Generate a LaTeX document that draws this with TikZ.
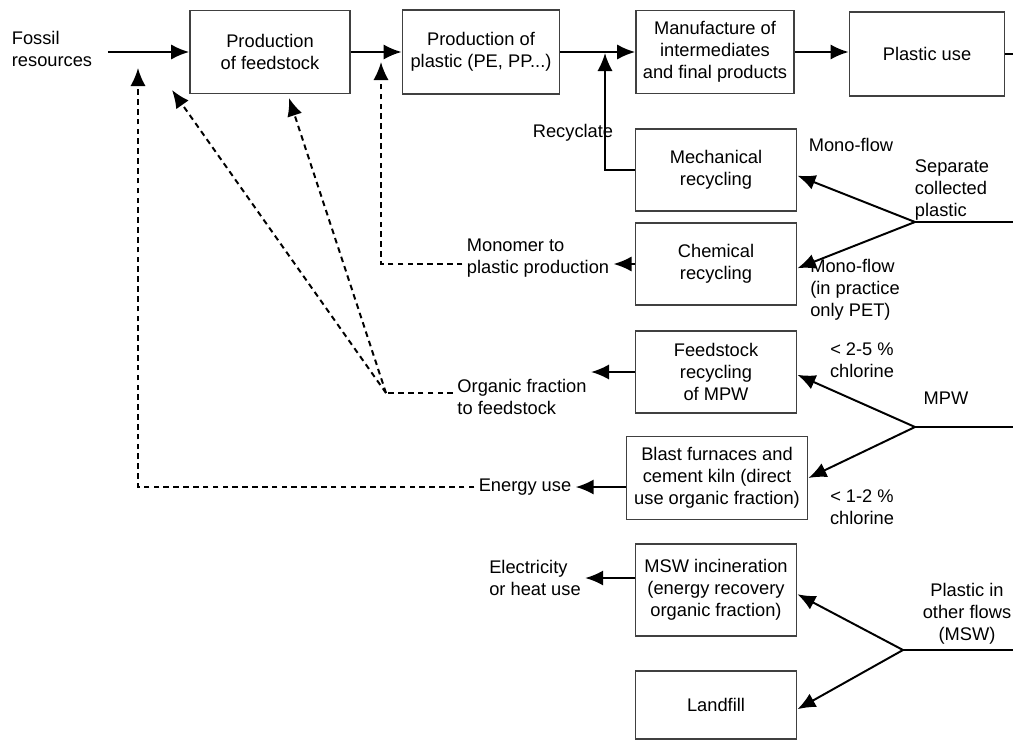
\documentclass[tikz,border=0pt]{standalone}
\usepackage{fontspec}
\setmainfont{Liberation Sans}
\usepackage{tikz}
\usetikzlibrary{arrows,arrows.meta,shapes}
\usetikzlibrary{positioning,calc}
\tikzstyle{block} = [draw=black!75, rectangle, line width=1.2pt, align=center,
    minimum width=4.03cm, minimum height=2.05cm, inner sep=2pt,
    font=\fontsize{13}{15.5}\selectfont]
\tikzstyle{txt} = [align=left, inner sep=3pt, font=\fontsize{13}{15.5}\selectfont]
\tikzstyle{flow} = [draw, line width=1.4pt, -{Latex[length=4.5mm,width=3.8mm]}]
\tikzstyle{dflow} = [flow, dash pattern=on 4pt off 3pt]
\tikzstyle{plain} = [draw, line width=1.4pt]

\begin{document}
\begin{tikzpicture}[x=0.025cm, y=-0.025cm, auto]
  \useasboundingbox (0,0) rectangle (1013,742);
  % Place nodes
  \node [block, minimum width=4cm, minimum height=2.08cm] (feed) at (270,52)
  {Production\\of feedstock};
  \node [block, minimum width=3.93cm, minimum height=2.1cm] (poly) at (481,52)
  {Production of\\plastic (PE, PP...)};
  \node [block, minimum width=3.95cm, minimum height=2.08cm] (manu) at (715,52)
  {Manufacture of\\intermediates\\and final products};
  \node [block, minimum width=3.88cm, minimum height=2.1cm] (use) at (927,54)
  {Plastic use};
  \node [block] (mech) at (716,170) {Mechanical\\recycling};
  \node [block] (chem) at (716,264) {Chemical\\recycling};
  \node [block] (fsr) at (716,372) {Feedstock\\recycling\\of MPW};
  \node [block, minimum width=4.53cm, minimum height=2.08cm] (blast) at (717,478)
  {Blast furnaces and\\cement kiln (direct\\use organic fraction)};
  \node [block, minimum height=2.3cm] (msw) at (716,590)
  {MSW incineration\\(energy recovery\\organic fraction)};
  \node [block, minimum height=1.7cm] (land) at (716,705) {Landfill};

  % Labels
  \node [txt] (fossil) at (52,49) {Fossil\\resources};
  \node [txt] (recyc) at (573,133) {Recyclate};
  \node [txt] (mono) at (538,258) {Monomer to\\plastic production};
  \node [txt] (organic) at (522,397) {Organic fraction\\to feedstock};
  \node [txt] (energy) at (525,487) {Energy use};
  \node [txt] (elec) at (535,578) {Electricity\\or heat use};
  \node [txt] (mono1) at (851,145) {Mono-flow};
  \node [txt] (sep) at (952,190) {Separate\\collected\\plastic};
  \node [txt] (mono2) at (855,290) {Mono-flow\\(in practice\\only PET)};
  \node [txt, align=center] (cl25) at (862,360) {< 2-5 \%\\chlorine};
  \node [txt] (mpw) at (946,398) {MPW};
  \node [txt, align=center] (cl12) at (862,507) {< 1-2 \%\\chlorine};
  \node [txt, align=center] (other) at (967,614) {Plastic in\\other flows\\(MSW)};

  % Junctions
  \coordinate (jsep) at (915,222);
  \coordinate (jmpw) at (915,427);
  \coordinate (jmsw) at (903,650);
  \coordinate (sepend) at (1013,222);
  \coordinate (mpwend) at (1013,427);
  \coordinate (mswend) at (1013,650);
  \coordinate (useend) at (1013,54);
  \coordinate (rjoin) at (605,53);
  \coordinate (mjoin) at (381,62);
  \coordinate (ejoin) at (138,68);
  \coordinate (ocorner) at (386,393);
  \coordinate (otipa) at (172,90);
  \coordinate (otipb) at (289,98);

  % Draw edges
  \draw [flow] ([xshift=8pt]fossil.east |- feed.west) -- (feed.west);
  \draw [flow] (feed) -- (poly);
  \draw [flow] (poly) -- (manu);
  \draw [flow] (manu.east) -- (manu.east -| use.west);
  \draw [plain] (use.east) -- (useend);
  \draw [flow] (mech.west) -| (rjoin);
  \draw [plain] (jsep) -- (sepend);
  \draw [flow] (jsep) -- ([yshift=-4pt]mech.east);
  \draw [flow] (jsep) -- ([yshift=-3pt]chem.east);
  \draw [flow] (chem.west) -- (mono.east |- chem.west);
  \draw [dflow] (mono.west |- chem.west) -| (mjoin);
  \draw [plain] (jmpw) -- (mpwend);
  \draw [flow] (jmpw) -- ([yshift=-2pt]fsr.east);
  \draw [flow] (jmpw) -- (blast.east);
  \draw [flow] (fsr.west) -- (organic.east |- fsr.west);
  \draw [flow] (blast.west |- energy.east) -- (energy.east);
  \draw [dash pattern=on 4pt off 3pt, line width=1.4pt] (organic.west |- ocorner) -- (ocorner);
  \draw [dflow] (ocorner) -- (otipa);
  \draw [dflow] (ocorner) -- (otipb);
  \draw [dflow] (energy.west) -| (ejoin);
  \draw [plain] (jmsw) -- (mswend);
  \draw [flow] (jmsw) -- ([yshift=-3pt]msw.east);
  \draw [flow] (jmsw) -- ([yshift=-3pt]land.east);
  \draw [flow] (msw.west |- elec.east) -- (elec.east);
\end{tikzpicture}
\end{document}
